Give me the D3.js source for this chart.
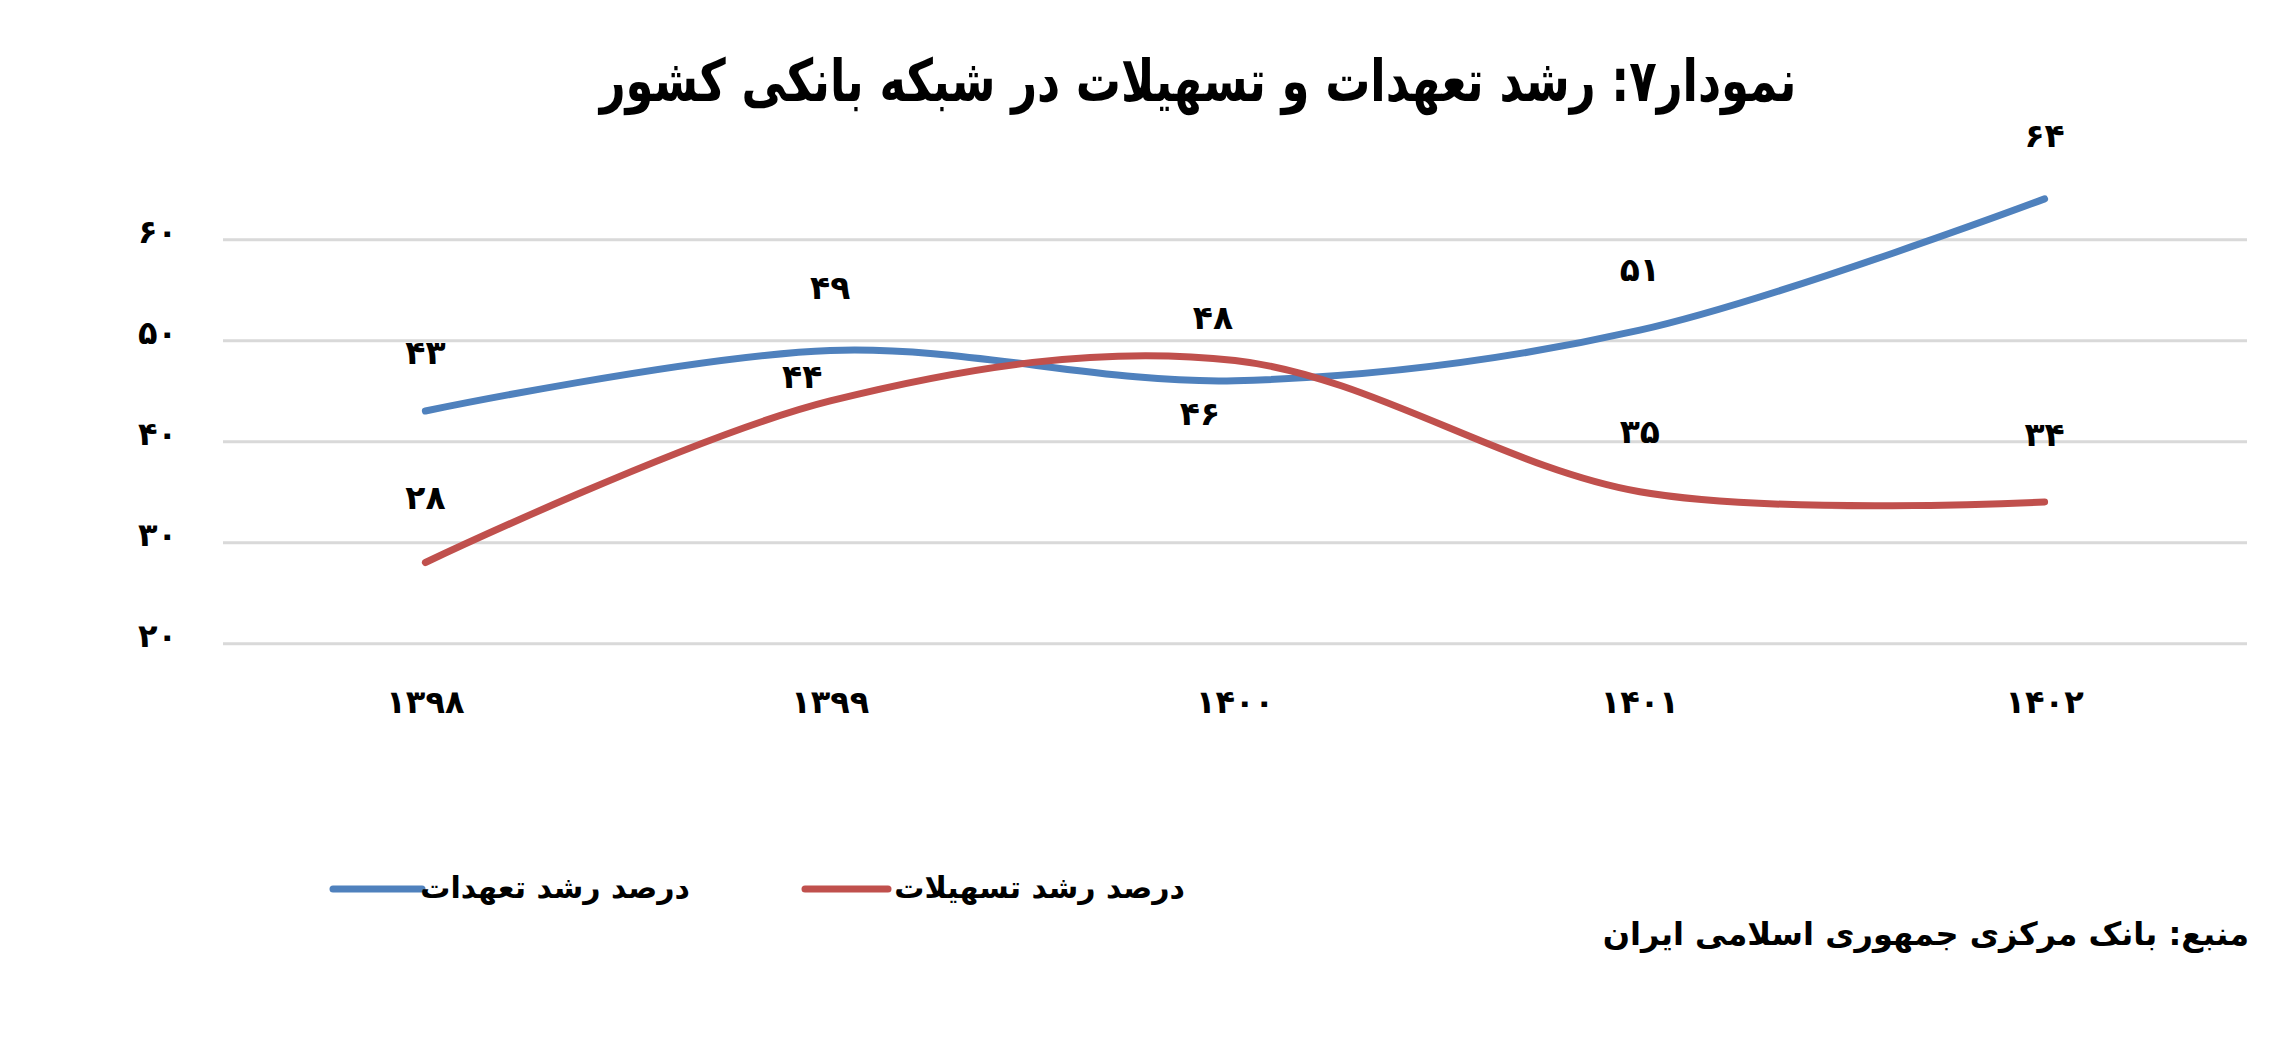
<!DOCTYPE html>
<html><head><meta charset="utf-8">
<script src="https://cdn.jsdelivr.net/npm/d3@7/dist/d3.min.js"></script>
<style>
html,body{margin:0;padding:0;background:#fff;}
text{font-family:"DejaVu Sans",sans-serif;font-weight:bold;fill:#000;}
</style></head>
<body>
<svg id="chart" width="2294" height="1044"></svg>
<script>
const categories = ["1398","1399","1400","1401","1402"];
const seriesNames = ["درصد رشد تعهدات","درصد رشد تسهیلات"];
const commitments = [43,49,46,51,64];
const facilities = [28,44,48,35,34];
const yTicks = [20,30,40,50,60];
const titleText = "نمودار۷: رشد تعهدات و تسهیلات در شبکه بانکی کشور";
const sourceText = "منبع: بانک مرکزی جمهوری اسلامی ایران";
const colors = ["#4f81bd","#c0504d"];
// label offsets (dx, dy from point) per series
const labelOffsets = [
  [[0,-59],[0,-63],[-35,33],[0,-61],[0,-63]],
  [[0,-65],[-28,-24],[-22,-43],[0,-60],[0,-67]]
];

const fa = s => String(s).replace(/\d/g, d => "۰۱۲۳۴۵۶۷۸۹"[d]);
const svg = d3.select("#chart");
const left = 223, right = 2247;
const x = d3.scaleBand().domain(categories).range([left,right]).padding(0);
const y = d3.scaleLinear().domain([20,60]).range([643.3,239.3]);

// title
svg.append("text").attr("transform","translate(1198,101) scale(1,1.3)").attr("text-anchor","middle")
  .attr("direction","rtl").style("font-size","45px").text(titleText);

// grid + y axis
const yAxis = d3.axisLeft(y).tickValues(yTicks).tickSize(-(right-left)).tickPadding(46).tickFormat(fa);
const gy = svg.append("g").attr("transform",`translate(${left},0)`).call(yAxis);
gy.select(".domain").remove();
gy.selectAll(".tick line").attr("stroke","#d9d9d9").attr("stroke-width",3);
gy.selectAll(".tick text").style("font-size","32px").style("font-family","DejaVu Sans").style("font-weight","bold").attr("dy","0.1em");

// x axis labels
const xAxis = d3.axisBottom(x).tickSize(0).tickPadding(0).tickFormat(fa);
const gx = svg.append("g").attr("transform","translate(0,690)").call(xAxis);
gx.select(".domain").remove();
gx.selectAll(".tick text").style("font-size","32px").style("font-family","DejaVu Sans").style("font-weight","bold");

const cx = c => x(c) + x.bandwidth()/2;
const line = d3.line().x((d,i)=>cx(categories[i])).y(d=>y(d)).curve(d3.curveCardinal.tension(0));
const series = [commitments, facilities];
series.forEach((s,k)=>{
  svg.append("path").attr("d",line(s)).attr("fill","none").attr("stroke",colors[k])
    .attr("stroke-width",7).attr("stroke-linecap","round").attr("stroke-linejoin","round");
});
series.forEach((s,k)=>{
  svg.append("g").selectAll("text").data(s).join("text")
    .attr("x",(d,i)=>cx(categories[i])+labelOffsets[k][i][0])
    .attr("y",(d,i)=>y(d)+labelOffsets[k][i][1])
    .attr("dy","0.35em").attr("text-anchor","middle").style("font-size","33px")
    .text(d=>fa(d));
});

// legend
const legend = [{x1:333,x2:422,tx:690},{x1:805,x2:888,tx:1185}];
legend.forEach((l,k)=>{
  svg.append("line").attr("x1",l.x1).attr("x2",l.x2).attr("y1",889).attr("y2",889)
    .attr("stroke",colors[k]).attr("stroke-width",7).attr("stroke-linecap","round");
  svg.append("text").attr("x",l.tx).attr("y",898).attr("direction","rtl").attr("text-anchor","start")
    .style("font-size","30px").text(seriesNames[k]);
});

// source
svg.append("text").attr("x",2249).attr("y",945).attr("direction","rtl").attr("text-anchor","start")
  .style("font-size","32px").text(sourceText);
</script>
</body></html>
